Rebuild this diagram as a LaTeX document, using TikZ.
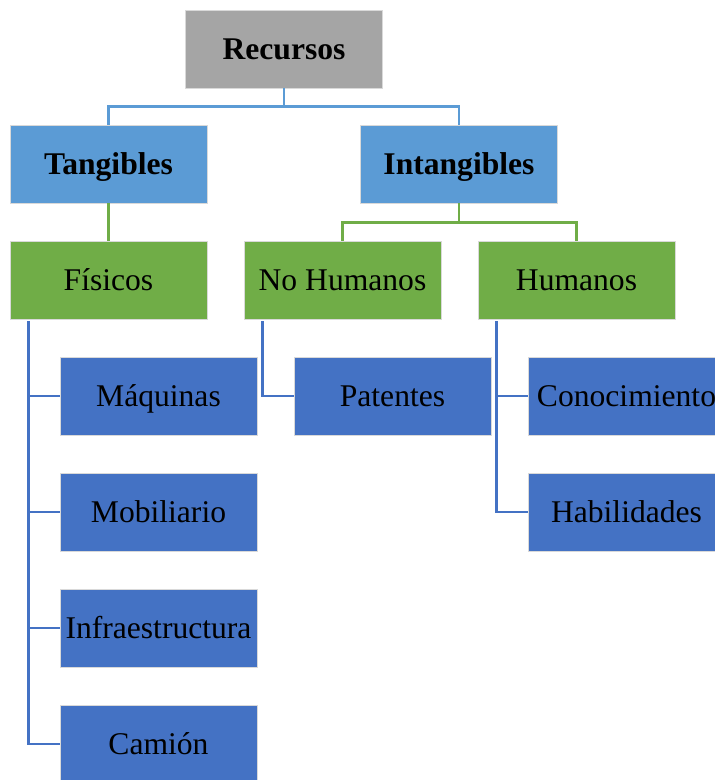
\documentclass[tikz,border=0pt]{standalone}
\usepackage{fontspec}
\setmainfont{Liberation Serif}
\definecolor{grisbox}{HTML}{A5A5A5}
\definecolor{azulclaro}{HTML}{5B9BD5}
\definecolor{verde}{HTML}{70AD47}
\definecolor{azul}{HTML}{4472C4}
\begin{document}
\begin{tikzpicture}[x=1pt,y=-1pt,
  caja/.style={minimum width=197pt,minimum height=78pt,inner sep=0pt,
    text height=26pt,text depth=6pt,
    draw=white!85!black,line width=0.8pt,text=black,
    font=\fontsize{31.6}{38}\selectfont},
  nivel0/.style={caja,fill=grisbox,font=\fontsize{31.6}{38}\selectfont\bfseries},
  nivel1/.style={caja,fill=azulclaro,font=\fontsize{31.6}{38}\selectfont\bfseries},
  nivel2/.style={caja,fill=verde},
  nivel3/.style={caja,fill=azul},
  linea/.style={line width=2.6pt}]
\useasboundingbox (0,0) rectangle (715,780);
\clip (0,0) rectangle (715,780);
% top levels
\node[nivel0] (rec) at (284,49) {Recursos};
\node[nivel1] (tan) at (108.5,164) {Tangibles};
\node[nivel1] (int) at (459,164) {Intangibles};
% second level
\node[nivel2] (fis) at (108.5,280) {Físicos};
\node[nivel2] (noh) at (342.5,280) {No Humanos};
\node[nivel2] (hum) at (576.5,280) {Humanos};
% leaves
\node[nivel3] (maq) at (158.5,396) {Máquinas};
\node[nivel3] (mob) at (158.5,512) {Mobiliario};
\node[nivel3] (inf) at (158.5,628) {Infraestructura};
\node[nivel3] (cam) at (158.5,744) {Camión};
\node[nivel3] (pat) at (392.5,396) {Patentes};
\node[nivel3] (con) at (626.5,396) {Conocimiento};
\node[nivel3] (hab) at (626.5,512) {Habilidades};
% connectors
\draw[linea,azulclaro] (rec.south) -- ++(0,18) -| (tan.north);
\draw[linea,azulclaro] (rec.south) -- ++(0,18) -| (int.north);
\draw[linea,verde] (tan.south) -- (fis.north);
\draw[linea,verde] (int.south) -- ++(0,19) -| (noh.north);
\draw[linea,verde] (int.south) -- ++(0,19) -| (hum.north);
\foreach \h in {maq,mob,inf,cam}
  \draw[linea,azul] ([xshift=19pt,yshift=-2pt]fis.south west) |- (\h.west);
\draw[linea,azul] ([xshift=19pt,yshift=-2pt]noh.south west) |- (pat.west);
\foreach \h in {con,hab}
  \draw[linea,azul] ([xshift=19pt,yshift=-2pt]hum.south west) |- (\h.west);
\end{tikzpicture}
\end{document}
